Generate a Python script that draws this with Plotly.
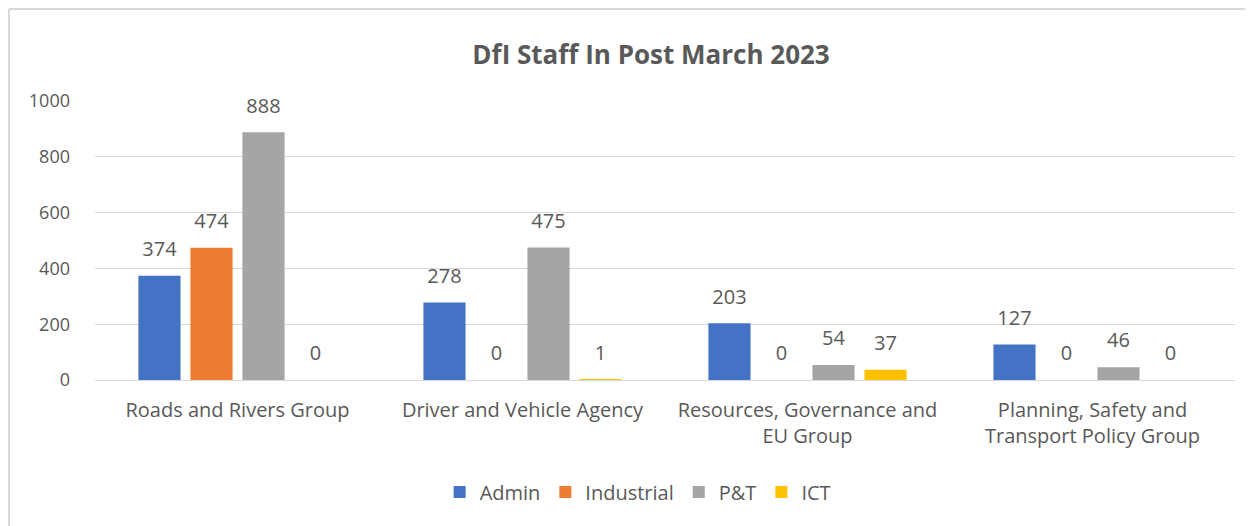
import plotly.graph_objects as go

categories = [
    "Roads and Rivers Group",
    "Driver and Vehicle Agency",
    "Resources, Governance and<br>EU Group",
    "Planning, Safety and<br>Transport Policy Group",
]
series_names = ["Admin", "Industrial", "P&T", "ICT"]
admin = [374, 278, 203, 127]
industrial = [474, 0, 0, 0]
pt = [888, 475, 54, 46]
ict = [0, 1, 37, 0]
colors = ["#4472C4", "#ED7D31", "#A5A5A5", "#FFC000"]
y_ticks = [0, 200, 400, 600, 800, 1000]

FONT = "'Open Sans', 'Noto Sans', sans-serif"
TXT = "#595959"
FS = 20

# page body has an 8px margin; figure is sized so it fits the 1253x526 window
W, H = 1245, 518
L, R, T, B = 87, 18, 93, 146
PW, PH = W - L - R, H - T - B

fig = go.Figure()
all_vals = [admin, industrial, pt, ict]
for name, vals, col in zip(series_names, all_vals, colors):
    fig.add_trace(go.Bar(
        x=categories, y=vals, name=name,
        marker=dict(color=col, line=dict(width=0)),
        hoverinfo="x+y+name",
    ))
for name, vals in zip(series_names, all_vals):
    fig.add_trace(go.Scatter(
        x=categories, y=vals, mode="markers+text", showlegend=False,
        text=[str(v) for v in vals], textposition="top center",
        textfont=dict(family=FONT, size=FS, color=TXT),
        marker=dict(size=22, color="rgba(0,0,0,0)"),
        cliponaxis=False, hoverinfo="skip",
    ))

fy_top = 1 + (T - 1) / PH
fx_left = (1 - L) / PW

fig.update_layout(
    width=W, height=H,
    margin=dict(l=L, r=R, t=T, b=B, autoexpand=False),
    paper_bgcolor="white", plot_bgcolor="white",
    barmode="group", bargap=0.27, bargroupgap=0.19,
    scattermode="group", scattergap=0.27,
    title=dict(text="<b>DfI Staff In Post March 2023</b>", x=0.5165, xanchor="center",
               y=1 - 47 / H, yanchor="middle",
               font=dict(family=FONT, size=26, color=TXT)),
    font=dict(family=FONT, size=FS, color=TXT),
    showlegend=True,
    legend=dict(orientation="h", x=0.476, xanchor="center", y=-0.401, yanchor="middle",
                font=dict(family=FONT, size=FS, color=TXT), itemwidth=30,
                traceorder="normal"),
    xaxis=dict(showline=False, ticks="", automargin=False, ticklabelstandoff=16,
               tickfont=dict(family=FONT, size=FS, color=TXT)),
    yaxis=dict(range=[0, 1000], tickvals=y_ticks, showgrid=True, gridcolor="#D9D9D9",
               gridwidth=1, zeroline=True, zerolinecolor="#D9D9D9", zerolinewidth=1,
               ticks="", ticklabelstandoff=24, automargin=False,
               tickfont=dict(family=FONT, size=18, color=TXT)),
    shapes=[
        dict(type="line", xref="paper", yref="paper",
             x0=fx_left, x1=1.2, y0=fy_top, y1=fy_top,
             line=dict(color="#D9D9D9", width=2)),
        dict(type="line", xref="paper", yref="paper",
             x0=fx_left, x1=fx_left, y0=fy_top, y1=-0.6,
             line=dict(color="#D9D9D9", width=2)),
    ],
)

fig.write_html("out.html")
